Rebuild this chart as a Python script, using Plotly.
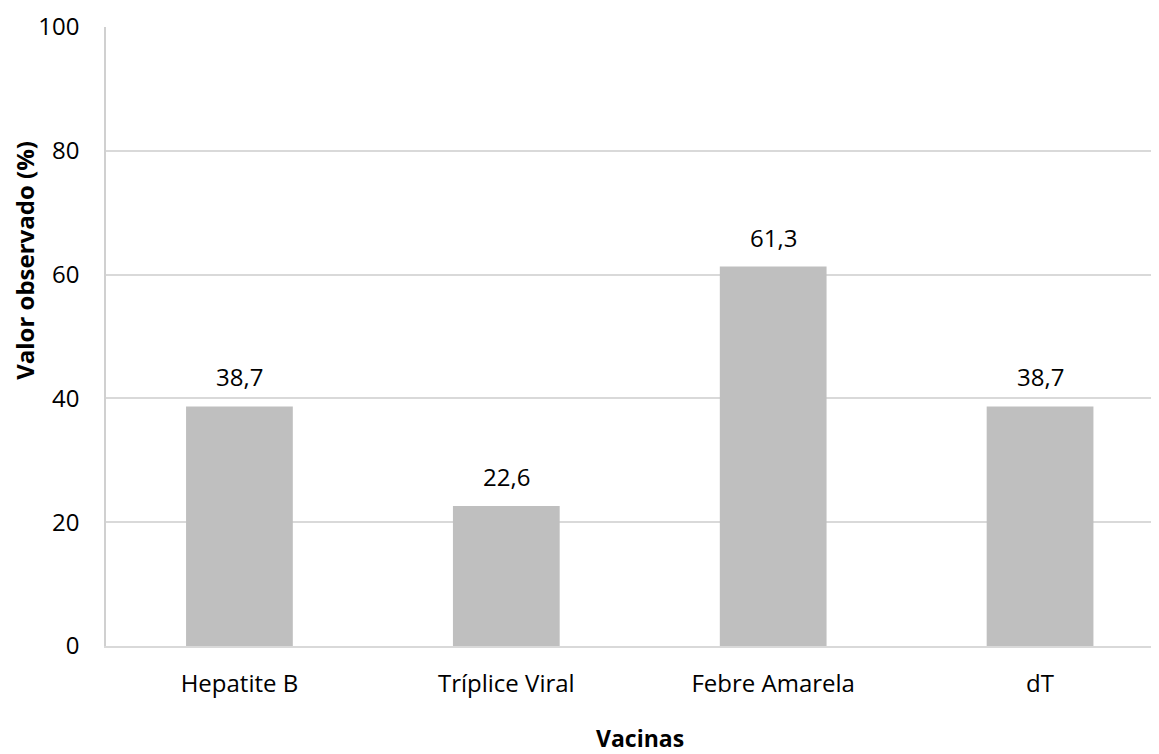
import plotly.graph_objects as go

categories = ["Hepatite B", "Tríplice Viral", "Febre Amarela", "dT"]
values = [38.7, 22.6, 61.3, 38.7]
y_ticks = [0, 20, 40, 60, 80, 100]
x_title = "Vacinas"
y_title = "Valor observado (%)"

FONT = "Open Sans, Liberation Sans, sans-serif"

# page has an 8px body margin; figure sized so the plot lands where the reference has it
W, H = 1151, 746
ML, MT, MB = 97.5, 18.7, 108
plot_w = W - ML
cat_w = 267.0
right_edge = -0.5 + plot_w / cat_w

fig = go.Figure()
fig.add_trace(go.Bar(
    x=list(range(len(categories))),
    y=values,
    marker=dict(color="#bfbfbf", line=dict(width=0)),
    width=0.4,
    hoverinfo="skip",
))

for i, v in enumerate(values):
    fig.add_annotation(
        x=i, y=v, xref="x", yref="y",
        text=f"{v:.1f}".replace(".", ","),
        showarrow=False, yanchor="bottom", yshift=11,
        font=dict(family=FONT, size=24, color="#000000"),
    )

# y-axis title (placed above centre as in the reference)
fig.add_annotation(
    x=0, y=0.623, xref="paper", yref="paper",
    text=f"<b>{y_title}</b>", textangle=-90,
    showarrow=False, xanchor="center", yanchor="middle", xshift=-81.5,
    font=dict(family=FONT, size=24, color="#000000"),
)

# x-axis title near the bottom edge, as in the reference
fig.add_annotation(
    x=0.5, y=0, xref="x domain", yref="paper",
    text=f"<b>{x_title}</b>",
    showarrow=False, xanchor="center", yanchor="middle", yshift=-92,
    xshift=(639.5 - 8 - ML) - 0.5 * plot_w,
    font=dict(family=FONT, size=23, color="#000000"),
)

fig.update_layout(
    width=W, height=H,
    margin=dict(l=ML, r=0, t=MT, b=MB, pad=0),
    paper_bgcolor="white", plot_bgcolor="white",
    showlegend=False,
    font=dict(family=FONT, size=24, color="#000000"),
)
fig.update_xaxes(
    range=[-0.5, right_edge],
    tickmode="array",
    tickvals=list(range(len(categories))),
    ticktext=categories,
    showgrid=False,
    showline=True, linecolor="#d9d9d9", linewidth=1.5,
    ticks="", ticklabelstandoff=15,
    tickfont=dict(family=FONT, size=24, color="#000000"),
    automargin=False, fixedrange=True,
)
fig.update_yaxes(
    range=[0, 100],
    tickmode="array", tickvals=y_ticks,
    showgrid=True, gridcolor="#d9d9d9", gridwidth=1.5,
    showline=True, linecolor="#d0d0d0", linewidth=1.5,
    zeroline=False,
    ticks="", ticklabelstandoff=20,
    tickfont=dict(family=FONT, size=24, color="#000000"),
    automargin=False, fixedrange=True,
)

fig.write_html("out.html", config={"displayModeBar": False})
